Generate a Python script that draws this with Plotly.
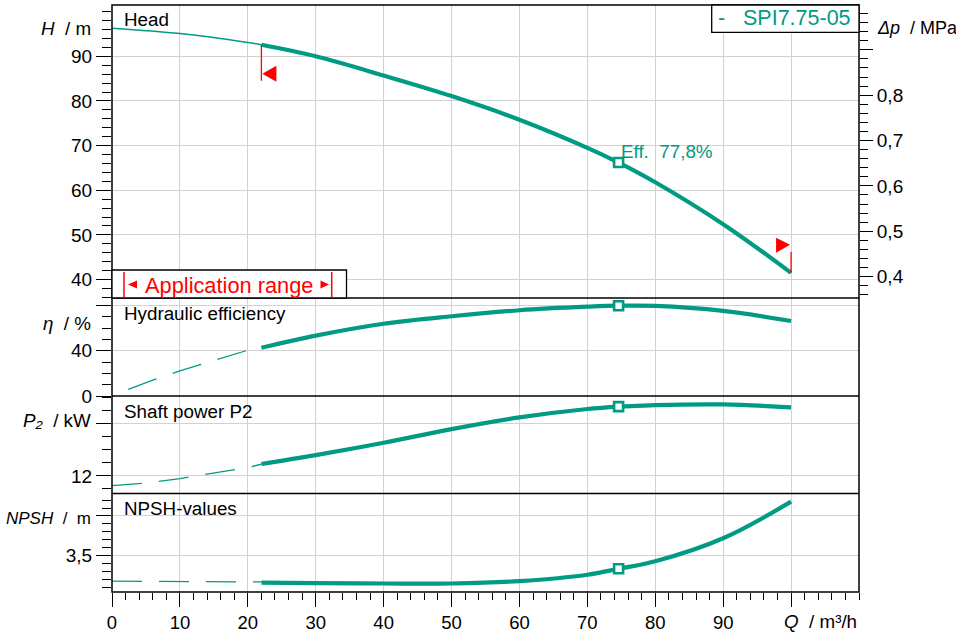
import plotly.graph_objects as go

# ---------------- data ----------------
Q_head_thin = [0, 10, 20, 22]
H_head_thin = [96.3, 95.1, 93.1, 92.6]

Q_main = [22, 30, 40, 50, 60, 70, 74.6, 80, 90, 100]
H_main = [92.6, 90.0, 85.7, 81.1, 75.8, 69.5, 66.2, 61.8, 52.4, 41.5]

Q_eta_dash = [2.4, 6, 10, 15, 20, 22]
eta_dash = [5.9, 14.0, 22.2, 31.3, 40.4, 42.6]
eta_main = [42.6, 53.3, 63.8, 70.4, 75.7, 78.8, 79.7, 79.5, 75.1, 66.2]

Q_p2_dash = [0, 5, 10, 15, 20, 22]
p2_dash = [11.25, 11.45, 11.8, 12.2, 12.65, 12.9]
p2_main = [12.92, 13.6, 14.55, 15.6, 16.5, 17.15, 17.33, 17.45, 17.5, 17.28]

Q_npsh_dash = [0, 22]
npsh_dash = [3.18, 3.17]
npsh_main = [3.16, 3.155, 3.15, 3.15, 3.18, 3.26, 3.335, 3.43, 3.72, 4.18]

OP_INDEX = 6            # duty point at Q = 74.6 m3/h
Q_app = [22, 100]        # application range limits
H_app = [92.6, 41.5]

x_tick_vals = [0, 10, 20, 30, 40, 50, 60, 70, 80, 90, 100]
x_tick_text = ["0", "10", "20", "30", "40", "50", "60", "70", "80", "90", ""]
head_ticks = [40, 50, 60, 70, 80, 90]
dp_ticks = [0.4, 0.5, 0.6, 0.7, 0.8, 0.9]
dp_text = ["0,4", "0,5", "0,6", "0,7", "0,8", ""]
eta_ticks = [0, 40, 80]
eta_text = ["0", "40", ""]
p2_ticks = [12, 16]
p2_text = ["12", ""]
npsh_ticks = [3.5, 4.0]
npsh_text = ["3,5", ""]

pump_name = "SPI7.75-05"
eff_label = "Eff.  77,8%"
MPA_PER_M = 0.00984

# ---------------- style ----------------
TEAL = "#009b82"
GRID = "#d2d2d2"
RED = "#ff0000"
FONT = "Liberation Sans, Arial, sans-serif"
W, H = 956, 636
L, R, T, B = 112, 859, 5, 592
PW, PH = R - L, B - T


def fx(px):
    return (px - L) / PW


def fy(py):
    return (B - py) / PH


head_dom = [fy(298), 1.0]
eta_dom = [fy(396), fy(298)]
p2_dom = [fy(493.5), fy(396)]
npsh_dom = [0.0, fy(493.5)]

head_range = [35.86, 101.5]

fig = go.Figure()

thick = dict(color=TEAL, width=4.2, shape="spline", smoothing=1.0)
thin_dash = dict(color=TEAL, width=1.3, dash="30px,17px")

# head
fig.add_trace(go.Scatter(x=Q_head_thin, y=H_head_thin, mode="lines",
                         line=dict(color=TEAL, width=1.4, shape="spline"),
                         xaxis="x", yaxis="y"))
fig.add_trace(go.Scatter(x=Q_main, y=H_main, mode="lines", line=thick,
                         xaxis="x", yaxis="y"))
# invisible trace for the pressure axis
fig.add_trace(go.Scatter(x=Q_main, y=[h * MPA_PER_M for h in H_main], mode="lines",
                         line=dict(width=0), opacity=0, hoverinfo="skip",
                         xaxis="x", yaxis="y5"))
# efficiency
fig.add_trace(go.Scatter(x=Q_eta_dash, y=eta_dash, mode="lines", line=thin_dash,
                         xaxis="x", yaxis="y2"))
fig.add_trace(go.Scatter(x=Q_main, y=eta_main, mode="lines", line=thick,
                         xaxis="x", yaxis="y2"))
# power
fig.add_trace(go.Scatter(x=Q_p2_dash, y=p2_dash, mode="lines", line=thin_dash,
                         xaxis="x", yaxis="y3"))
fig.add_trace(go.Scatter(x=Q_main, y=p2_main, mode="lines", line=thick,
                         xaxis="x", yaxis="y3"))
# npsh
fig.add_trace(go.Scatter(x=Q_npsh_dash, y=npsh_dash, mode="lines", line=thin_dash,
                         xaxis="x", yaxis="y4"))
fig.add_trace(go.Scatter(x=Q_main, y=npsh_main, mode="lines", line=thick,
                         xaxis="x", yaxis="y4"))

# duty point markers
op_marker = dict(symbol="square", size=9, color="white",
                 line=dict(color=TEAL, width=2.6))
for ys, yax in [(H_main, "y"), (eta_main, "y2"), (p2_main, "y3"), (npsh_main, "y4")]:
    fig.add_trace(go.Scatter(x=[Q_main[OP_INDEX]], y=[ys[OP_INDEX]], mode="markers",
                             marker=op_marker, xaxis="x", yaxis=yax))

tickfont = dict(family=FONT, size=19, color="black")


def yax(dom, rng, tv, tt, mdt, grid=True):
    return dict(domain=dom, range=rng, anchor="x", tickmode="array", tickvals=tv,
                ticktext=tt, ticks="outside", ticklen=15, tickwidth=1.3,
                tickcolor="black", showgrid=grid, gridcolor=GRID, gridwidth=1.3,
                zeroline=False, showline=False, tickfont=tickfont, automargin=False,
                minor=dict(dtick=mdt, tick0=0, ticks="outside", ticklen=9,
                           tickwidth=1.3, tickcolor="black", showgrid=False))


shapes = []
ann = []

# borders
shapes.append(dict(type="rect", xref="paper", yref="paper", x0=0, x1=1, y0=0, y1=1,
                   line=dict(color="black", width=1.5), layer="above"))
for yb in [head_dom[0], eta_dom[0], p2_dom[0]]:
    shapes.append(dict(type="line", xref="paper", yref="paper", x0=0, x1=1, y0=yb, y1=yb,
                       line=dict(color="black", width=1.5), layer="above"))

# application range box
shapes.append(dict(type="rect", xref="paper", yref="paper", x0=fx(112), x1=fx(346.5),
                   y0=fy(298), y1=fy(270), fillcolor="white",
                   line=dict(color="black", width=1.3), layer="above"))
for bx in [124, 331.7]:
    shapes.append(dict(type="line", xref="paper", yref="paper", x0=fx(bx), x1=fx(bx),
                       y0=fy(297), y1=fy(272), line=dict(color=RED, width=1.5),
                       layer="above"))
shapes.append(dict(type="path", xref="paper", yref="paper", fillcolor=RED,
                   line=dict(width=0), layer="above",
                   path=f"M {fx(128)},{fy(284.5)} L {fx(137)},{fy(280.5)} L {fx(137)},{fy(288.5)} Z"))
shapes.append(dict(type="path", xref="paper", yref="paper", fillcolor=RED,
                   line=dict(width=0), layer="above",
                   path=f"M {fx(329)},{fy(284.5)} L {fx(320.5)},{fy(280.5)} L {fx(320.5)},{fy(288.5)} Z"))
ann.append(dict(xref="paper", yref="paper", x=fx(229), y=fy(285), text="Application range",
                showarrow=False, xanchor="center", yanchor="middle",
                font=dict(family=FONT, size=21.8, color=RED)))

# legend box
shapes.append(dict(type="rect", xref="paper", yref="paper", x0=fx(711.7), x1=1,
                   y0=fy(32.3), y1=1, fillcolor="white",
                   line=dict(color="black", width=1.3), layer="above"))
ann.append(dict(xref="paper", yref="paper", x=fx(721), y=fy(18.5), text="-",
                showarrow=False, xanchor="center", yanchor="middle",
                font=dict(family=FONT, size=21.5, color=TEAL)))
ann.append(dict(xref="paper", yref="paper", x=fx(852.5), y=fy(18.5), text=pump_name,
                showarrow=False, xanchor="right", yanchor="middle",
                font=dict(family=FONT, size=21.5, color=TEAL)))

# application-range flags (pixel-sized, anchored at the limit points)
shapes.append(dict(type="path", xref="x", yref="y", xsizemode="pixel", ysizemode="pixel",
                   xanchor=Q_app[0], yanchor=H_app[0], line=dict(color=RED, width=1.3),
                   path="M 0,0 L 0,-36"))
shapes.append(dict(type="path", xref="x", yref="y", xsizemode="pixel", ysizemode="pixel",
                   xanchor=Q_app[0], yanchor=H_app[0], fillcolor=RED, line=dict(width=0),
                   path="M 1,-29 L 15,-21 L 15,-37 Z"))
shapes.append(dict(type="path", xref="x", yref="y", xsizemode="pixel", ysizemode="pixel",
                   xanchor=Q_app[1], yanchor=H_app[1], line=dict(color=RED, width=1.3),
                   path="M 0,0 L 0,21"))
shapes.append(dict(type="path", xref="x", yref="y", xsizemode="pixel", ysizemode="pixel",
                   xanchor=Q_app[1], yanchor=H_app[1], fillcolor=RED, line=dict(width=0),
                   path="M -1,28 L -15,35 L -15,20 Z"))

lab = dict(family=FONT, size=18.8, color="black")
# panel titles
for text, py in [("Head", 19), ("Hydraulic efficiency", 313), ("Shaft power P2", 411),
                 ("NPSH-values", 508)]:
    ann.append(dict(xref="paper", yref="paper", x=fx(122), y=fy(py), text=text,
                    showarrow=False, xanchor="left", yanchor="middle", font=lab))
# axis unit labels
NB = "\u00a0"
for text, py, fs in [(f"<i>H</i>{NB}{NB}/{NB}m", 28, 18.8),
                     (f"<i>η</i>{NB}{NB}/{NB}%", 323, 18.8),
                     (f"<i>P₂</i>{NB}{NB}/{NB}kW", 420, 18.8),
                     (f"<i>NPSH</i>{NB}{NB}/{NB}{NB}m", 518, 17)]:
    ann.append(dict(xref="paper", yref="paper", x=fx(92.5), y=fy(py), text=text,
                    showarrow=False, xanchor="right", yanchor="middle",
                    font=dict(family=FONT, size=fs, color="black")))
ann.append(dict(xref="paper", yref="paper", x=fx(875), y=fy(28),
                text=f"<i>Δp</i>{NB}{NB}/{NB}MPa", showarrow=False,
                xanchor="left", yanchor="middle", font=dict(family=FONT, size=18, color="black")))
ann.append(dict(xref="paper", yref="paper", x=1.0, y=fy(621),
                text=f"<i>Q</i>{NB}{NB}/{NB}m³/h", showarrow=False,
                xanchor="right", yanchor="middle", font=lab))
# duty point label
ann.append(dict(xref="paper", yref="paper", x=fx(619), y=fy(152), text=eff_label,
                showarrow=False, xanchor="left", yanchor="middle",
                font=dict(family=FONT, size=18.8, color=TEAL)))

fig.update_layout(
    width=W, height=H,
    margin=dict(l=L, r=W - R, t=T, b=H - B, autoexpand=False),
    paper_bgcolor="white", plot_bgcolor="white", showlegend=False,
    separators=",.", font=dict(family=FONT, size=18, color="black"),
    xaxis=dict(domain=[0, 1], range=[0, 110], anchor="y4", tickmode="array",
               tickvals=x_tick_vals, ticktext=x_tick_text, ticks="outside",
               ticklen=14, tickwidth=1.3, tickcolor="black", showgrid=True,
               gridcolor=GRID, gridwidth=1.3, zeroline=False, showline=False,
               tickfont=dict(family=FONT, size=18.5, color="black"), automargin=False,
               minor=dict(dtick=2, tick0=0, ticks="outside", ticklen=7, tickwidth=1.3,
                          tickcolor="black", showgrid=False)),
    yaxis=yax(head_dom, head_range, head_ticks, [str(v) for v in head_ticks], 2),
    yaxis2=yax(eta_dom, [0, 86.5], eta_ticks, eta_text, 10),
    yaxis3=yax(p2_dom, [10.65, 18.15], p2_ticks, p2_text, 1),
    yaxis4=yax(npsh_dom, [3.043, 4.283], npsh_ticks, npsh_text, 0.1),
    yaxis5=dict(overlaying="y", side="right", anchor="x",
                range=[head_range[0] * MPA_PER_M, head_range[1] * MPA_PER_M],
                tickmode="array", tickvals=dp_ticks, ticktext=dp_text, ticks="outside",
                ticklen=13, tickwidth=1.3, tickcolor="black", showgrid=False,
                zeroline=False, showline=False, tickfont=tickfont, automargin=False,
                minor=dict(dtick=0.02, tick0=0, ticks="outside", ticklen=8,
                           tickwidth=1.3, tickcolor="black", showgrid=False)),
    shapes=shapes, annotations=ann,
)

fig.write_html(
    "out.html",
    config={"displayModeBar": False},
    post_script="document.body.style.margin='0';document.body.style.padding='0';",
)
